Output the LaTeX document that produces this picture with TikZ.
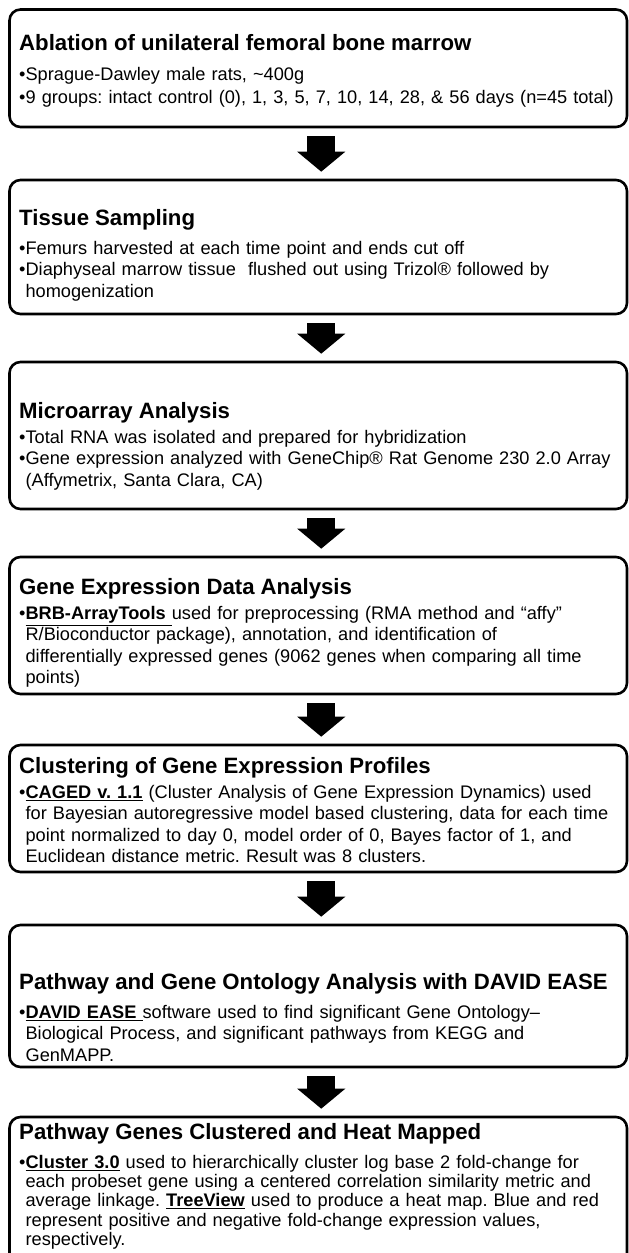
\documentclass[tikz,border=0pt]{standalone}
\usepackage{fontspec}
\setmainfont{Liberation Sans}
\usepackage{tikz}
\usetikzlibrary{arrows.meta}

\newcommand{\stagetitle}[2][4pt]{{\fontsize{22.2}{26}\selectfont\bfseries #2\par}\vspace{#1}}
\newcommand{\stageitem}[1]{\hangindent=6.4pt\hangafter=1\noindent\textbullet#1\par}
\newcommand{\toolname}[1]{\underline{\textbf{#1}}}

\tikzset{
  stagebox/.style={draw,line width=2.6pt,rounded corners=11pt,minimum width=617.5pt,inner sep=0pt},
  stagetext/.style={anchor=north west,inner sep=0pt,text width=640pt,align=left,
    font=\fontsize{18.2}{21.3}\selectfont\frenchspacing},
  flowarrow/.style={line width=28pt,-{Triangle[width=47pt,length=20pt]},shorten <=8pt,shorten >=7pt}
}

\begin{document}
\begin{tikzpicture}[x=1pt,y=-1pt]
\useasboundingbox (0,0) rectangle (629,1253);
\clip (0,0) rectangle (629,1253);

% Stage boxes
\node[stagebox,minimum height=117.5pt] (abl) at (318.25,68.25) {};
\node[stagebox,minimum height=134pt] (tis) at (318.25,247) {};
\node[stagebox,minimum height=147pt] (micro) at (318.25,435.5) {};
\node[stagebox,minimum height=137pt] (gexp) at (318.25,625.5) {};
\node[stagebox,minimum height=127pt] (clus) at (318.25,808.5) {};
\node[stagebox,minimum height=142pt] (pway) at (318.25,996) {};
\node[stagebox,minimum height=148pt] (heat) at (318.25,1191) {};

% Stage texts
\node[stagetext,font=\fontsize{18.2}{22.5}\selectfont\frenchspacing] (abltxt) at (19,34) {
\stagetitle[8pt]{Ablation of unilateral femoral bone marrow}
\stageitem{Sprague-Dawley male rats, \textasciitilde400g}
\stageitem{9 groups: intact control (0), 1, 3, 5, 7, 10, 14, 28, \& 56 days (n=45 total)}
};

\node[stagetext] (tistxt) at (19,209) {
\stagetitle[8pt]{Tissue Sampling}
\stageitem{Femurs harvested at each time point and ends cut off}
\stageitem{Diaphyseal marrow tissue\ \ flushed out using Trizol® followed by\newline homogenization}
};

\node[stagetext] (microtxt) at (19,402) {
\stagetitle{Microarray Analysis}
\stageitem{Total RNA was isolated and prepared for hybridization}
\stageitem{Gene expression analyzed with GeneChip® Rat Genome 230 2.0 Array\newline (Affymetrix, Santa Clara, CA)}
};

\node[stagetext] (gexptxt) at (19,578) {
\stagetitle{Gene Expression Data Analysis}
\stageitem{\toolname{BRB-ArrayTools\ }used for preprocessing (RMA method and “affy”\newline R/Bioconductor package), annotation, and identification of\newline differentially expressed genes (9062 genes when comparing all time\newline points)}
};

\node[stagetext] (clustxt) at (19,757) {
\stagetitle{Clustering of Gene Expression Profiles}
\stageitem{\toolname{CAGED v. 1.1} (Cluster Analysis of Gene Expression Dynamics) used\newline for Bayesian autoregressive model based clustering, data for each time\newline point normalized to day 0, model order of 0, Bayes factor of 1, and\newline Euclidean distance metric. Result was 8 clusters.}
};

\node[stagetext] (pwaytxt) at (19,973) {
\stagetitle[8pt]{Pathway and Gene Ontology Analysis with DAVID EASE}
\stageitem{\toolname{DAVID EASE\ }software used to find significant Gene Ontology–\newline Biological Process, and significant pathways from KEGG and\newline GenMAPP.}
};

\node[stagetext,font=\fontsize{18.2}{19.2}\selectfont\frenchspacing] (heattxt) at (19,1123) {
\stagetitle[10pt]{Pathway Genes Clustered and Heat Mapped}
\stageitem{\toolname{Cluster 3.0} used to hierarchically cluster log base 2 fold-change for\newline each probeset gene using a centered correlation similarity metric and\newline average linkage. \toolname{TreeView} used to produce a heat map. Blue and red\newline represent positive and negative fold-change expression values,\newline respectively.}
};

% Arrows
\draw[flowarrow] ([xshift=3pt]abl.south) -- ([xshift=3pt]tis.north);
\draw[flowarrow] ([xshift=3pt]tis.south) -- ([xshift=3pt]micro.north);
\draw[flowarrow] ([xshift=3pt]micro.south) -- ([xshift=3pt]gexp.north);
\draw[flowarrow] ([xshift=3pt]gexp.south) -- ([xshift=3pt]clus.north);
\draw[flowarrow] ([xshift=3pt]clus.south) -- ([xshift=3pt]pway.north);
\draw[flowarrow] ([xshift=3pt]pway.south) -- ([xshift=3pt]heat.north);
\end{tikzpicture}
\end{document}
